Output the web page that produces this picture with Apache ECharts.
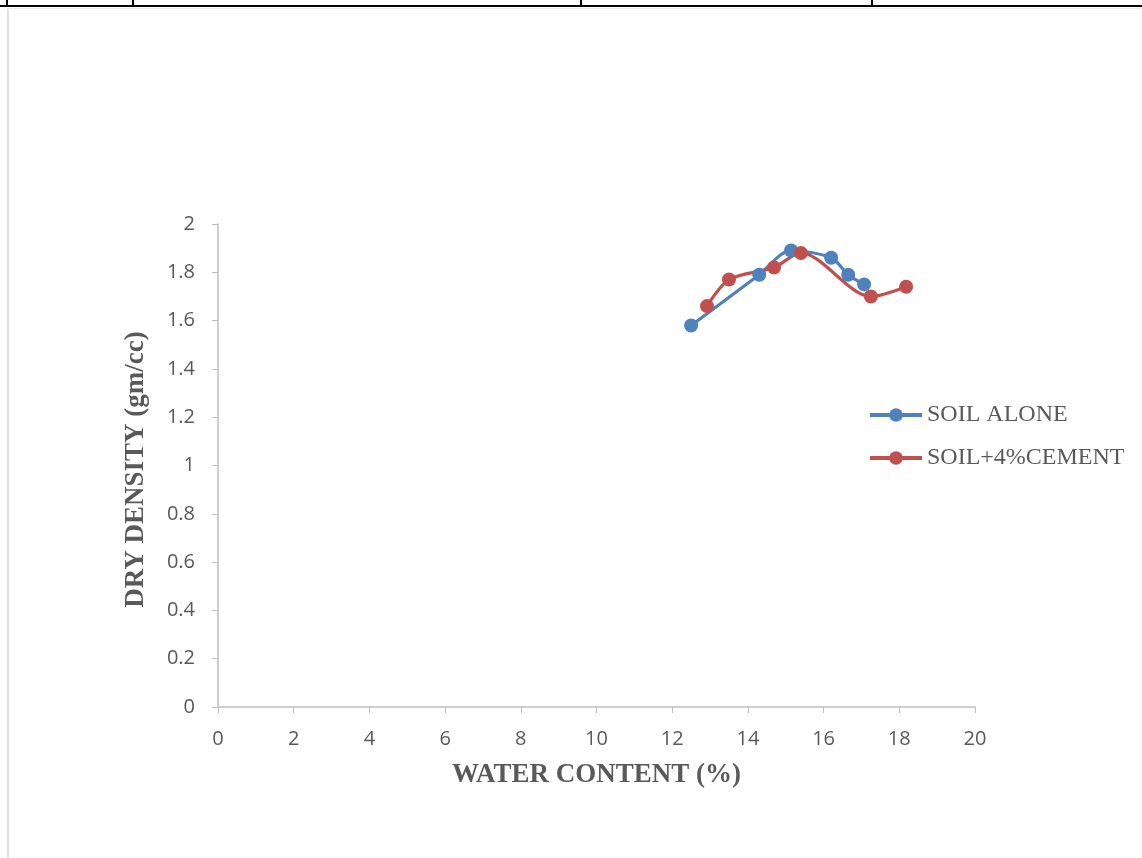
<!DOCTYPE html>
<html>
<head>
<meta charset="utf-8">
<script src="https://cdn.jsdelivr.net/npm/echarts@6/dist/echarts.min.js"></script>
<style>
  html, body { margin: 0; padding: 0; background: #fff; }
  #chart { width: 1142px; height: 858px; }
</style>
</head>
<body>
<div id="chart"></div>
<script>
// Compaction test: water content (%) vs dry density (gm/cc)
const soilAloneWater   = [12.5, 14.3, 15.14, 16.2, 16.65, 17.07];
const soilAloneDensity = [1.58, 1.79, 1.89, 1.86, 1.79, 1.75];
const cementWater      = [12.92, 13.5, 14.69, 15.4, 17.25, 18.18];
const cementDensity    = [1.66, 1.77, 1.82, 1.88, 1.70, 1.74];
const seriesNames = ['SOIL ALONE', 'SOIL+4%CEMENT'];
const xAxisTitle = 'WATER CONTENT (%)';
const yAxisTitle = 'DRY DENSITY (gm/cc)';

const pairs = (xs, ys) => xs.map((x, i) => [x, ys[i]]);

const chart = echarts.init(document.getElementById('chart'));
const axisGrey = '#bfbfbf';
const labelGrey = '#595959';

chart.setOption({
  animation: false,
  backgroundColor: '#fff',
  grid: { left: 218, right: 167, top: 224, bottom: 151 },
  xAxis: {
    type: 'value', min: 0, max: 20, interval: 2,
    name: xAxisTitle, nameLocation: 'middle', nameGap: 55,
    nameTextStyle: { fontFamily: 'Liberation Serif', fontWeight: 'bold', fontSize: 27, color: labelGrey },
    axisLine: { show: true, lineStyle: { color: axisGrey, width: 1.5 } },
    axisTick: { show: true, length: 6, lineStyle: { color: axisGrey } },
    axisLabel: { fontFamily: 'Open Sans', fontSize: 20, color: labelGrey, margin: 22 },
    splitLine: { show: false }
  },
  yAxis: {
    type: 'value', min: 0, max: 2, interval: 0.2,
    name: yAxisTitle, nameLocation: 'middle', nameGap: 68, nameRotate: 90,
    nameTextStyle: { fontFamily: 'Liberation Serif', fontWeight: 'bold', fontSize: 27, color: labelGrey,
                     padding: [0, 8, 0, 0] },
    axisLine: { show: true, lineStyle: { color: axisGrey, width: 1.5 } },
    axisTick: { show: true, length: 6, lineStyle: { color: axisGrey } },
    axisLabel: { fontFamily: 'Open Sans', fontSize: 20, color: labelGrey, margin: 23,
                 formatter: v => String(Math.round(v * 10) / 10) },
    splitLine: { show: false }
  },
  legend: {
    orient: 'vertical', left: 868, top: 403, padding: 0, itemGap: 19,
    itemWidth: 52, itemHeight: 17,
    lineStyle: { width: 4 },
    textStyle: { fontFamily: 'Liberation Serif', fontSize: 24, color: labelGrey, padding: 0 },
    data: seriesNames
  },
  series: [
    {
      name: seriesNames[0], type: 'line', smooth: 0.3,
      data: pairs(soilAloneWater, soilAloneDensity),
      symbol: 'circle', symbolSize: 14,
      lineStyle: { color: '#4F81BD', width: 3.2 },
      itemStyle: { color: '#4F81BD' }
    },
    {
      name: seriesNames[1], type: 'line', smooth: 0.3,
      data: pairs(cementWater, cementDensity),
      symbol: 'circle', symbolSize: 14,
      lineStyle: { color: '#C0504D', width: 3.2 },
      itemStyle: { color: '#C0504D' }
    }
  ],
  graphic: [
    // table rule along the top of the page
    { type: 'rect', shape: { x: 0, y: 5, width: 1142, height: 2 }, style: { fill: '#000' }, silent: true },
    { type: 'rect', shape: { x: 6, y: 0, width: 2, height: 6 }, style: { fill: '#000' }, silent: true },
    { type: 'rect', shape: { x: 132, y: 0, width: 2, height: 6 }, style: { fill: '#000' }, silent: true },
    { type: 'rect', shape: { x: 580, y: 0, width: 2, height: 6 }, style: { fill: '#000' }, silent: true },
    { type: 'rect', shape: { x: 871, y: 0, width: 2, height: 6 }, style: { fill: '#000' }, silent: true },
    // light frame of the chart area
    { type: 'rect', shape: { x: 7, y: 8, width: 2, height: 850 }, style: { fill: '#e0e0e0' }, silent: true },
    { type: 'rect', shape: { x: 7, y: 8, width: 1135, height: 1 }, style: { fill: '#ececec' }, silent: true }
  ]
});
</script>
</body>
</html>
